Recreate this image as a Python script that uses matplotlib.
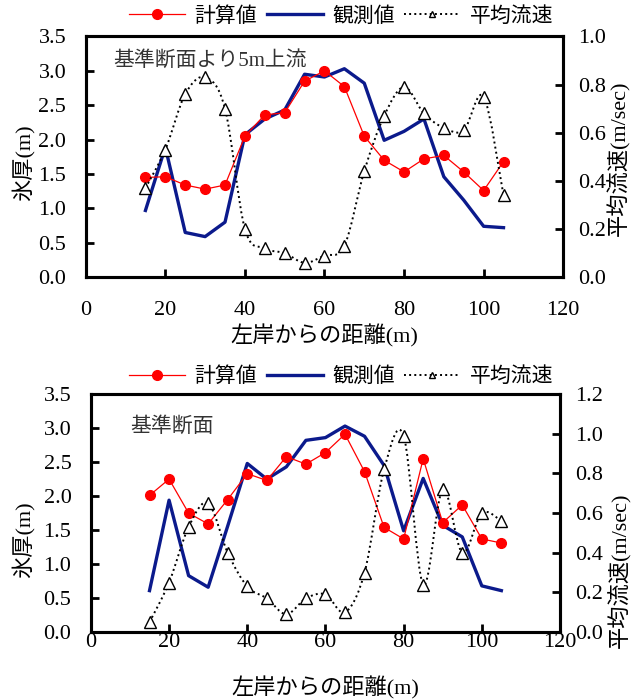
import matplotlib
matplotlib.use('Agg')
import matplotlib.pyplot as plt
from matplotlib.path import Path
from matplotlib.patches import PathPatch
from matplotlib.lines import Line2D

plt.rcParams['font.family'] = ['Liberation Serif', 'Noto Sans CJK JP']
plt.rcParams['font.size'] = 15

# 左岸からの距離 (m)
kyori = [15, 20, 25, 30, 35, 40, 45, 50, 55, 60, 65, 70, 75, 80, 85, 90, 95, 100, 105]

# 基準断面より5m上流
keisan_up = [1.45, 1.46, 1.34, 1.28, 1.34, 2.05, 2.36, 2.39, 2.85, 3.00, 2.77, 2.05,
             1.70, 1.53, 1.72, 1.77, 1.53, 1.26, 1.68]
kansoku_up = [0.97, 1.89, 0.65, 0.59, 0.80, 2.07, 2.30, 2.43, 2.95, 2.91, 3.03, 2.82,
              1.99, 2.12, 2.30, 1.46, 1.12, 0.74, 0.72]
ryusoku_up = [0.37, 0.53, 0.76, 0.83, 0.70, 0.20, 0.12, 0.10, 0.06, 0.09, 0.13, 0.44,
              0.67, 0.79, 0.68, 0.62, 0.61, 0.75, 0.34]

# 基準断面
keisan_kj = [2.01, 2.25, 1.75, 1.59, 1.95, 2.33, 2.23, 2.58, 2.47, 2.64, 2.91, 2.36,
             1.54, 1.37, 2.55, 1.61, 1.87, 1.37, 1.31]
kansoku_kj = [0.61, 1.94, 0.83, 0.66, 1.56, 2.48, 2.25, 2.43, 2.82, 2.86, 3.03, 2.88,
              2.45, 1.49, 2.26, 1.57, 1.40, 0.68, 0.61]
ryusoku_kj = [0.05, 0.25, 0.53, 0.65, 0.40, 0.23, 0.17, 0.09, 0.17, 0.19, 0.10, 0.30,
              0.82, 0.99, 0.24, 0.72, 0.40, 0.60, 0.56]

x_ticks = [0, 20, 40, 60, 80, 100, 120]
hyo_ticks = [0.0, 0.5, 1.0, 1.5, 2.0, 2.5, 3.0, 3.5]
v_ticks_up = [0.0, 0.2, 0.4, 0.6, 0.8, 1.0]
v_ticks_kj = [0.0, 0.2, 0.4, 0.6, 0.8, 1.0, 1.2]

labels = ['計算値', '観測値', '平均流速']
AZUL = '#0b1a8c'
ROJO = '#ff0000'


def curva_suave(xs, ys):
    # spline tipo Excel (Catmull-Rom como bezier cubica)
    px = [xs[0]] + list(xs) + [xs[-1]]
    py = [ys[0]] + list(ys) + [ys[-1]]
    verts = [(xs[0], ys[0])]
    codes = [Path.MOVETO]
    for i in range(1, len(px) - 2):
        c1 = (px[i] + (px[i + 1] - px[i - 1]) / 6, py[i] + (py[i + 1] - py[i - 1]) / 6)
        c2 = (px[i + 1] - (px[i + 2] - px[i]) / 6, py[i + 1] - (py[i + 2] - py[i]) / 6)
        verts += [c1, c2, (px[i + 1], py[i + 1])]
        codes += [Path.CURVE4] * 3
    return Path(verts, codes)


def dibuja_panel(fig, rect, keisan, kansoku, ryusoku, v_ticks, titulo, tit_pos,
                 xpad, xlab_y, ylab_pos, y2lab_pos, ley_y):
    ax = fig.add_axes(rect)
    ax.plot(kyori, keisan, color=ROJO, lw=0.9, marker='o', ms=7, zorder=3)
    ax.plot(kyori, kansoku, color=AZUL, lw=2.4, zorder=2)
    ax.set_xlim(0, 120)
    ax.set_ylim(0, 3.5)
    ax.set_xticks(x_ticks)
    ax.set_yticks(hyo_ticks)
    ax.set_yticklabels(['%.1f' % t for t in hyo_ticks])
    ax.tick_params(axis='both', labelsize=16)
    ax.tick_params(axis='y', direction='in', length=6, width=2, pad=14)
    ax.tick_params(axis='x', direction='in', length=6, width=2, pad=xpad)
    for s in ax.spines.values():
        s.set_linewidth(2.2)
    ax.set_xlabel('左岸からの距離(m)', fontsize=16, va='center')
    ax.xaxis.set_label_coords(0.5, xlab_y)
    ax.set_ylabel('氷厚(m)', fontsize=16, va='center')
    ax.yaxis.set_label_coords(*ylab_pos)
    ax.text(tit_pos[0], tit_pos[1], titulo, transform=ax.transAxes, va='center',
            ha='left', fontsize=15, color='#333333')

    ax2 = ax.twinx()
    ax2.plot(kyori, ryusoku, ls='none', marker='^', ms=8, mfc='white', mec='black',
             mew=1.0, zorder=4)
    ax2.add_patch(PathPatch(curva_suave(kyori, ryusoku), fill=False, ls=':',
                            lw=1.4, edgecolor='black'))
    ax2.set_ylim(0, v_ticks[-1])
    ax2.set_yticks(v_ticks)
    ax2.set_yticklabels(['%.1f' % t for t in v_ticks])
    ax2.tick_params(axis='y', direction='in', length=6, width=2, pad=11, labelsize=16)
    for s in ax2.spines.values():
        s.set_linewidth(2.2)
    ax2.set_ylabel('平均流速(m/sec)', fontsize=16, va='center')
    ax2.yaxis.set_label_coords(*y2lab_pos)

    h_rojo = Line2D([], [], color=ROJO, lw=0.9, marker='o', ms=7)
    h_azul = Line2D([], [], color=AZUL, lw=2.4)
    h_vel = Line2D([], [], color='black', ls=':', lw=1.4, marker='^', ms=5,
                   mfc='white', mec='black')
    fig.legend([h_rojo, h_azul, h_vel], labels, loc='center',
               bbox_to_anchor=(0.533, ley_y), ncol=3, frameon=False, fontsize=15,
               handlelength=2.7, handletextpad=0.45, columnspacing=0.45)


fig = plt.figure(figsize=(6.4, 7.0), dpi=100)
dibuja_panel(fig, [0.134, 0.604, 0.746, 0.344], keisan_up, kansoku_up, ryusoku_up,
             v_ticks_up, '基準断面より5m上流', (0.057, 0.90), 17, -0.245,
             (-0.132, 0.477), (1.117, 0.494), 0.976)
dibuja_panel(fig, [0.142, 0.097, 0.733, 0.340], keisan_kj, kansoku_kj, ryusoku_kj,
             v_ticks_kj, '基準断面', (0.083, 0.861), 1, -0.235,
             (-0.145, 0.39), (1.128, 0.26), 0.461)
fig.savefig('out.png', dpi=100)
